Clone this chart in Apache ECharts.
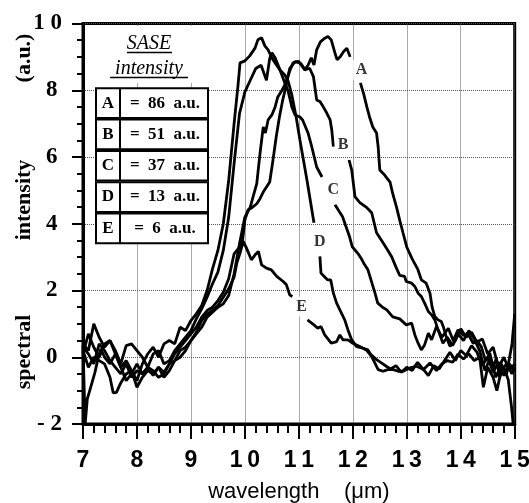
<!DOCTYPE html>
<html>
<head>
<meta charset="utf-8">
<script src="https://cdn.jsdelivr.net/npm/echarts@6/dist/echarts.min.js"></script>
<style>html,body{margin:0;padding:0;background:#fff}#chart{width:529px;height:503px}</style>
</head>
<body>
<div id="chart"></div>
<script>
// ---- tick labels ----
const xTickValues = [7, 8, 9, 10, 11, 12, 13, 14, 15];
const xTickLabels = ['7', '8', '9', '1\u20090', '1\u20091', '1\u20092', '1\u20093', '1\u20094', '1\u20095'];
const yTickValues = [-2, 0, 2, 4, 6, 8, 10];
const yTickLabels = ['- 2', '0\u2009', '2\u2009', '4\u2009', '6\u2009', '8\u2009', '1 0'];

// ---- curve labels ----
const curveNames = ['A', 'B', 'C', 'D', 'E'];
const curveLabelX = [12.16, 11.82, 11.64, 11.39, 11.05];
const curveLabelY = [8.61, 6.36, 5.01, 3.47, 1.52];

// ---- legend table ----
const tableKeys = ['A', 'B', 'C', 'D', 'E'];
const tableSase = [86, 51, 37, 13, 6];

// ---- spectra: [wavelength (um), spectral intensity (a.u.)] ----
const curveA = [[7.0,0.3],[7.1,0.1],[7.2,-0.2],[7.3,0.4],[7.4,0.2],[7.5,-0.1],[7.6,-0.3],[7.7,-0.5],[7.8,-0.2],[7.9,-0.6],[8.0,-0.4],[8.1,-0.5],[8.2,-0.3],[8.3,-0.4],[8.4,-0.6],[8.5,-0.5],[8.6,-0.2],[8.7,-0.1],[8.8,0.2],[8.9,0.3],[9.0,0.5],[9.1,0.7],[9.2,0.9],[9.3,1.2],[9.4,1.35],[9.5,1.5],[9.6,1.6],[9.7,1.85],[9.8,2.5],[9.9,3.4],[10.0,4.2],[10.1,4.5],[10.15,4.8],[10.22,5.2],[10.28,6.1],[10.34,6.9],[10.38,6.72],[10.43,7.11],[10.5,7.26],[10.56,7.5],[10.61,7.8],[10.69,8.01],[10.74,8.16],[10.83,8.57],[10.89,8.82],[10.99,8.87],[11.05,8.77],[11.11,8.62],[11.17,8.75],[11.23,8.97],[11.28,8.76],[11.33,9.21],[11.4,9.45],[11.48,9.56],[11.54,9.61],[11.6,9.51],[11.67,9.11],[11.71,8.91],[11.77,9.01],[11.83,9.16],[11.89,9.26],[11.95,9.0],[12.05,null],[12.14,8.22],[12.2,7.9],[12.26,7.5],[12.31,7.2],[12.37,6.9],[12.44,6.72],[12.47,6.3],[12.5,5.61],[12.59,5.46],[12.69,5.25],[12.74,4.9],[12.81,4.5],[12.87,4.1],[12.93,3.73],[13.0,3.3],[13.1,2.95],[13.2,2.65],[13.27,2.32],[13.36,2.22],[13.43,1.92],[13.47,1.5],[13.52,1.22],[13.58,1.12],[13.64,1.07],[13.68,0.9],[13.73,0.62],[13.8,0.33],[13.9,0.5],[14.0,0.85],[14.1,0.6],[14.2,0.75],[14.3,0.45],[14.4,0.55],[14.5,0.1],[14.6,0.3],[14.7,-0.3],[14.8,0.0],[14.9,-0.4],[15.0,-0.2]];

const curveB = [[7.0,0.35],[7.04,-2.0],[7.08,-1.25],[7.13,-0.97],[7.22,-0.46],[7.27,-0.1],[7.33,0.25],[7.4,0.0],[7.5,-0.2],[7.6,0.1],[7.7,-0.3],[7.8,-0.7],[7.9,-0.5],[8.0,-0.2],[8.1,-0.5],[8.2,-0.3],[8.3,-0.55],[8.4,-0.3],[8.5,-0.45],[8.6,-0.2],[8.7,0.1],[8.8,0.3],[8.9,0.5],[9.0,0.7],[9.1,0.9],[9.2,1.2],[9.3,1.4],[9.4,1.5],[9.5,1.7],[9.6,1.95],[9.7,2.35],[9.8,3.1],[9.9,3.3],[9.95,3.4],[10.0,4.12],[10.06,4.42],[10.12,4.47],[10.22,4.6],[10.28,4.75],[10.34,4.95],[10.4,5.1],[10.46,5.25],[10.52,5.9],[10.58,6.6],[10.64,7.2],[10.7,7.7],[10.76,8.1],[10.83,8.65],[10.93,8.86],[11.02,8.81],[11.11,8.61],[11.2,8.66],[11.27,8.41],[11.33,7.71],[11.39,7.66],[11.45,7.51],[11.52,7.31],[11.58,7.11],[11.61,6.81],[11.64,6.31],[11.78,null],[11.93,5.91],[11.98,5.61],[12.04,4.81],[12.13,4.63],[12.26,4.48],[12.35,4.33],[12.44,3.73],[12.56,3.43],[12.65,3.2],[12.72,3.01],[12.8,2.7],[12.87,2.45],[12.96,2.42],[12.99,2.27],[13.09,2.22],[13.15,2.12],[13.21,1.92],[13.27,1.82],[13.33,1.62],[13.4,1.37],[13.46,1.27],[13.52,1.12],[13.58,0.82],[13.67,0.42],[13.75,0.6],[13.85,0.35],[13.95,0.7],[14.05,0.5],[14.15,0.8],[14.25,0.55],[14.35,0.2],[14.45,-0.4],[14.55,0.0],[14.65,-0.6],[14.75,-0.2],[14.85,-0.5],[14.95,0.4],[15.0,1.3]];

const curveC = [[7.0,0.1],[7.1,0.7],[7.2,0.3],[7.3,0.0],[7.4,0.4],[7.5,0.5],[7.6,0.2],[7.7,-0.2],[7.8,0.35],[7.9,0.4],[8.0,0.2],[8.1,0.0],[8.2,-0.3],[8.3,0.1],[8.4,0.2],[8.5,-0.2],[8.6,-0.1],[8.7,0.2],[8.8,0.4],[8.9,0.6],[9.0,0.8],[9.1,1.15],[9.2,1.45],[9.3,1.8],[9.4,2.2],[9.5,2.55],[9.6,3.2],[9.7,4.2],[9.8,5.8],[9.9,7.3],[10.0,7.95],[10.1,8.3],[10.2,8.65],[10.3,8.75],[10.4,8.3],[10.46,8.95],[10.5,9.12],[10.56,8.97],[10.65,8.61],[10.74,8.22],[10.8,7.98],[10.87,7.5],[10.93,7.26],[11.02,7.2],[11.07,7.11],[11.17,6.72],[11.24,6.3],[11.33,5.7],[11.43,5.4],[11.55,null],[11.67,4.57],[11.81,4.21],[11.94,3.61],[11.99,3.31],[12.1,3.1],[12.17,2.92],[12.22,2.77],[12.28,2.62],[12.41,1.93],[12.46,1.63],[12.55,1.5],[12.63,1.42],[12.74,1.21],[12.87,1.15],[12.99,0.97],[13.09,1.02],[13.15,0.67],[13.21,0.42],[13.27,0.22],[13.33,0.37],[13.4,0.72],[13.46,0.52],[13.55,0.92],[13.65,0.6],[13.77,0.87],[13.86,0.5],[13.95,0.82],[14.05,0.65],[14.13,0.72],[14.23,0.42],[14.3,0.5],[14.38,0.32],[14.46,-0.1],[14.54,0.12],[14.6,-0.3],[14.66,-0.03],[14.72,-0.6],[14.79,-0.27],[14.88,-0.67],[14.94,-1.47],[14.97,-1.97]];

const curveD = [[7.0,0.4],[7.1,0.2],[7.2,1.0],[7.3,0.6],[7.4,0.3],[7.5,0.5],[7.6,0.1],[7.7,-0.3],[7.8,-0.1],[7.9,-0.4],[8.0,-0.7],[8.1,-0.2],[8.2,0.1],[8.3,0.3],[8.4,0.0],[8.5,0.4],[8.6,0.5],[8.7,0.4],[8.8,0.9],[8.9,0.8],[9.0,1.1],[9.1,1.3],[9.2,1.55],[9.3,2.0],[9.4,2.65],[9.5,3.2],[9.6,4.0],[9.7,5.3],[9.8,7.0],[9.87,8.1],[9.91,8.82],[10.0,8.88],[10.09,9.03],[10.19,9.27],[10.24,9.51],[10.31,9.57],[10.37,9.33],[10.43,9.21],[10.5,8.97],[10.56,8.82],[10.65,8.61],[10.74,8.46],[10.8,8.28],[10.87,7.86],[10.95,7.2],[11.02,6.51],[11.15,5.31],[11.28,4.03],[11.33,null],[11.39,3.02],[11.41,2.52],[11.47,2.42],[11.53,2.32],[11.59,2.32],[11.64,1.92],[11.7,1.62],[11.76,1.42],[11.85,1.12],[11.91,0.82],[11.98,0.52],[12.07,0.32],[12.19,0.27],[12.28,0.22],[12.34,0.07],[12.44,-0.07],[12.53,-0.17],[12.62,-0.27],[12.7,-0.35],[12.8,-0.25],[12.9,-0.45],[13.0,-0.3],[13.1,-0.4],[13.2,-0.15],[13.3,-0.35],[13.4,-0.55],[13.5,-0.25],[13.6,-0.35],[13.7,-0.1],[13.8,0.15],[13.9,-0.1],[14.0,0.2],[14.1,0.05],[14.2,0.35],[14.3,0.15],[14.4,-0.25],[14.5,0.0],[14.6,-0.45],[14.7,-0.15],[14.8,-0.55],[14.9,-0.2],[15.0,-0.4]];

const curveE = [[7.0,0.2],[7.1,-0.3],[7.2,0.0],[7.3,-0.1],[7.4,-0.2],[7.5,-0.6],[7.56,-1.07],[7.62,-1.05],[7.7,-0.77],[7.8,-0.5],[7.9,-0.4],[8.0,-0.9],[8.1,-0.6],[8.2,-0.4],[8.3,-0.5],[8.4,-0.3],[8.5,-0.6],[8.6,-0.4],[8.7,-0.1],[8.8,0.0],[8.9,0.2],[9.0,0.5],[9.1,0.75],[9.2,1.1],[9.3,1.3],[9.4,1.4],[9.5,1.55],[9.6,1.8],[9.7,2.05],[9.8,2.4],[9.85,2.82],[9.91,3.12],[9.97,3.47],[10.03,3.27],[10.12,2.92],[10.19,3.07],[10.25,3.17],[10.31,2.77],[10.4,2.67],[10.49,2.62],[10.59,2.42],[10.71,2.27],[10.77,2.17],[10.83,1.87],[10.88,1.82],[11.0,null],[11.16,1.12],[11.28,0.97],[11.35,0.87],[11.41,0.92],[11.48,0.67],[11.6,0.42],[11.7,0.47],[11.76,0.67],[11.82,0.52],[11.91,0.52],[12.0,0.42],[12.13,0.32],[12.25,0.22],[12.35,0.02],[12.47,-0.37],[12.56,-0.42],[12.65,-0.37],[12.75,-0.37],[12.84,-0.42],[12.93,-0.42],[13.06,-0.32],[13.18,-0.27],[13.31,-0.37],[13.43,-0.17],[13.55,-0.4],[13.65,-0.2],[13.75,-0.1],[13.85,-0.15],[13.95,0.1],[14.05,-0.05],[14.15,0.1],[14.25,-0.1],[14.35,0.0],[14.42,-0.9],[14.5,-0.3],[14.6,-0.6],[14.67,-1.0],[14.75,-0.4],[14.85,-0.2],[14.95,-0.5],[15.0,-0.3]];

const curves = [curveA, curveB, curveC, curveD, curveE];

const SERIF = '"Liberation Serif", "DejaVu Serif", serif';
const SANS_N = '"Liberation Sans Narrow", "Liberation Sans", Arial, sans-serif';
const SANS = '"Liberation Sans", Arial, sans-serif';

const chart = echarts.init(document.getElementById('chart'), null, {renderer: 'canvas'});

const lineSeries = curves.map((d, i) => ({
  name: curveNames[i],
  type: 'line',
  data: d,
  showSymbol: false,
  symbol: 'none',
  connectNulls: false,
  smooth: false,
  lineStyle: {color: '#000', width: 2.8},
  z: 3,
  animation: false
}));

const labelSeries = {
  type: 'scatter',
  data: curveNames.map((n, i) => ({name: n, value: [curveLabelX[i], curveLabelY[i]]})),
  symbol: 'rect',
  symbolSize: 1,
  itemStyle: {color: 'rgba(0,0,0,0)'},
  label: {
    show: true, position: 'inside', formatter: p => p.name,
    color: '#000', fontFamily: SERIF, fontWeight: 'bold', fontSize: 16,
    backgroundColor: '#fff', padding: [2, 3]
  },
  z: 6,
  silent: true,
  animation: false
};

// legend table graphics
const g = [];
g.push({type: 'rect', shape: {x: 92, y: 26, width: 120, height: 57}, style: {fill: '#fff'}, z: 100});
g.push({type: 'text', x: 149, y: 44, style: {text: 'SASE', font: 'italic 20px ' + SERIF, fill: '#000', align: 'center', verticalAlign: 'middle', textAlign: 'center', textVerticalAlign: 'middle'}, z: 101});
g.push({type: 'line', shape: {x1: 127, y1: 52.5, x2: 172, y2: 52.5}, style: {stroke: '#000', lineWidth: 1.5}, z: 101});
g.push({type: 'text', x: 149, y: 69, style: {text: 'intensity', font: 'italic 20px ' + SERIF, fill: '#000', align: 'center', verticalAlign: 'middle', textAlign: 'center', textVerticalAlign: 'middle'}, z: 101});
g.push({type: 'line', shape: {x1: 110, y1: 77.5, x2: 188, y2: 77.5}, style: {stroke: '#000', lineWidth: 1.5}, z: 101});
const rowH = 31.3, top0 = 87.5;
tableKeys.forEach((k, i) => {
  const y0 = top0 + i * rowH;
  g.push({type: 'rect', shape: {x: 96, y: y0 + 0.8, width: 112, height: rowH - 1.6}, style: {fill: '#fff', stroke: '#000', lineWidth: 2}, z: 100});
  g.push({type: 'line', shape: {x1: 120, y1: y0 + 0.8, x2: 120, y2: y0 + rowH - 0.8}, style: {stroke: '#000', lineWidth: 2}, z: 101});
  g.push({type: 'text', x: 108, y: y0 + rowH / 2, style: {text: k, font: 'bold 17px ' + SERIF, fill: '#000', align: 'center', verticalAlign: 'middle', textAlign: 'center', textVerticalAlign: 'middle'}, z: 101});
  g.push({type: 'text', x: 165, y: y0 + rowH / 2, style: {text: '=  ' + tableSase[i] + '  a.u.', font: 'bold 17px ' + SERIF, fill: '#000', align: 'center', verticalAlign: 'middle', textAlign: 'center', textVerticalAlign: 'middle'}, z: 101});
});
// y-axis title words (letter-spaced look in original)
[['spectral', 352], ['intensity', 200], ['(a.u.)', 58]].forEach(([t, y]) => {
  g.push({type: 'text', x: 24, y: y, rotation: Math.PI / 2, style: {text: t, font: 'bold 22px ' + SERIF, fill: '#000', align: 'center', verticalAlign: 'middle', textAlign: 'center', textVerticalAlign: 'middle'}, z: 101});
});

const option = {
  backgroundColor: '#fff',
  animation: false,
  grid: {left: 83, right: 14.3, top: 23.5, bottom: 79, show: true, borderColor: '#000', borderWidth: 3, backgroundColor: 'transparent', containLabel: false, outerBoundsMode: 'none'},
  xAxis: {
    type: 'value', min: 7, max: 15, interval: 1,
    axisLine: {show: true, onZero: false, lineStyle: {color: '#000', width: 3}},
    axisTick: {show: true, inside: false, length: 15, lineStyle: {color: '#000', width: 2}},
    minorTick: {show: true, splitNumber: 5, length: 9, lineStyle: {color: '#000', width: 2}},
    splitLine: {show: true, lineStyle: {color: '#555', width: 1, type: 'dotted'}},
    axisLabel: {
      margin: 25, color: '#000', fontFamily: SANS_N, fontWeight: 'bold', fontSize: 23,
      formatter: v => { const i = xTickValues.indexOf(v); return i >= 0 ? xTickLabels[i] : ''; }
    },
    name: 'wavelength    (\u03bcm)', nameLocation: 'middle', nameGap: 57,
    nameTextStyle: {color: '#000', fontFamily: SANS, fontSize: 22}
  },
  yAxis: {
    type: 'value', min: -2, max: 10, interval: 2,
    axisLine: {show: true, onZero: false, lineStyle: {color: '#000', width: 3}},
    axisTick: {show: true, inside: false, length: 11, lineStyle: {color: '#000', width: 2}},
    minorTick: {show: true, splitNumber: 4, length: 6, lineStyle: {color: '#000', width: 2}},
    splitLine: {show: true, lineStyle: {color: '#555', width: 1, type: 'dotted'}},
    axisLabel: {
      margin: 21, color: '#000', fontFamily: SERIF, fontWeight: 'bold', fontSize: 23,
      formatter: v => { const i = yTickValues.indexOf(v); return i >= 0 ? yTickLabels[i] : ''; }
    }
  },
  series: lineSeries.concat([labelSeries]),
  graphic: {elements: g}
};
chart.setOption(option);
</script>
</body>
</html>
